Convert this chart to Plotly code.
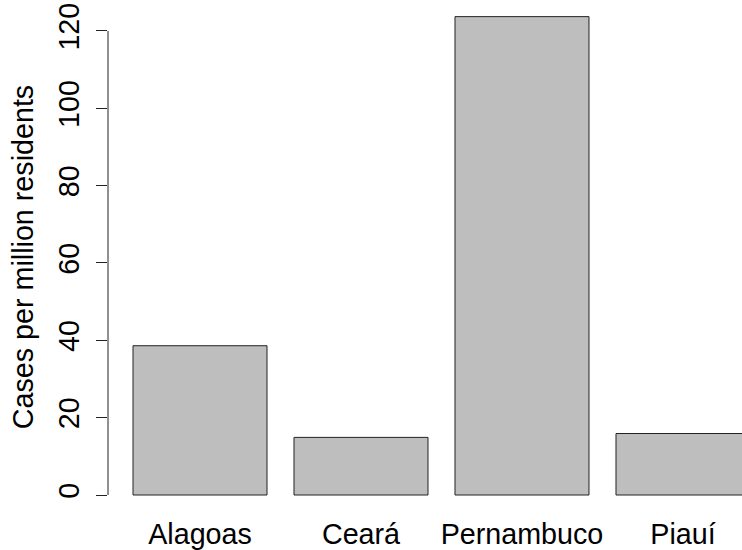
import plotly.graph_objects as go

states = ["Alagoas", "Ceará", "Pernambuco", "Piauí"]
cases_per_million = [38.6, 14.9, 123.7, 15.9]
y_ticks = [0, 20, 40, 60, 80, 100, 120]

FONT = "Liberation Sans, Arial, sans-serif"
FS = 28.7

fig = go.Figure(
    go.Bar(
        x=states,
        y=cases_per_million,
        marker=dict(color="#BEBEBE", line=dict(color="#222222", width=1)),
    )
)

fig.add_shape(
    type="line", xref="paper", yref="y",
    x0=0, x1=0, y0=min(y_ticks), y1=max(y_ticks),
    line=dict(color="#222222", width=1),
)

fig.update_layout(
    width=742, height=550,
    margin=dict(l=108, r=0, t=0, b=36, autoexpand=False),
    paper_bgcolor="white", plot_bgcolor="white",
    bargap=0.1677,
    showlegend=False,
    font=dict(family=FONT, size=FS, color="black"),
)
fig.update_xaxes(
    range=[-0.5714, 3.3665], automargin=False,
    showline=False, showgrid=False, zeroline=False, ticks="",
    tickfont=dict(size=FS), ticklabelstandoff=0,
)
fig.update_yaxes(
    range=[-4.913, 128.0], automargin=False,
    tickvals=y_ticks, ticks="outside", ticklen=11, tickwidth=1, tickcolor="#222222",
    tickangle=-90, tickfont=dict(size=FS), ticklabelstandoff=6,
    ticklabeloverflow="allow",
    showline=False, showgrid=False, zeroline=False,
    title=dict(text="Cases per million residents", font=dict(size=FS), standoff=10),
)

fig.write_html(
    "out.html",
    config={"displayModeBar": False},
    post_script="document.body.style.margin='0';document.body.style.overflow='hidden';",
)
